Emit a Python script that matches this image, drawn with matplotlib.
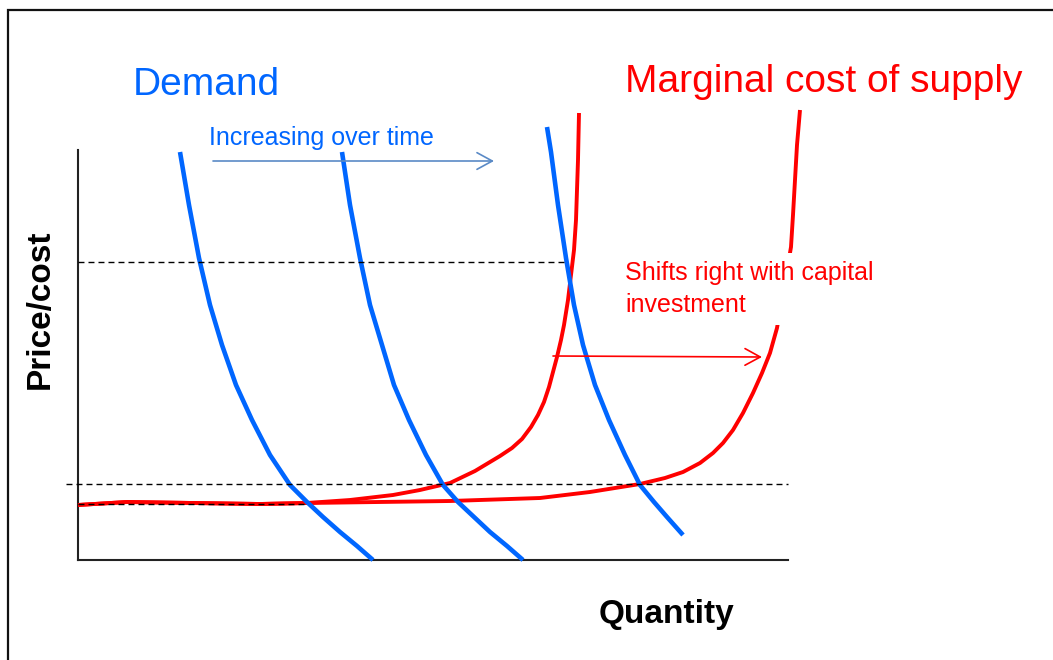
import matplotlib
matplotlib.use("Agg")
import matplotlib.pyplot as plt
from matplotlib.patches import FancyArrowPatch, Rectangle

plt.rcParams['font.family'] = ['Liberation Sans', 'DejaVu Sans']

# ---- data (arbitrary quantity / price units, axis spans 0-710 x 0-410) ----
demand1_q = [102, 111, 121, 132, 144, 158, 174, 192, 212, 229, 245, 262, 279, 295]
demand1_p = [408, 355, 302, 255, 215, 175, 140, 105, 75, 58, 43, 28, 14, 0]

demand2_q = [264, 272, 282, 292, 304, 316, 331, 348, 365, 380, 396, 412, 429, 445]
demand2_p = [408, 355, 302, 255, 215, 175, 140, 105, 75, 58, 43, 28, 14, 0]

demand3_q = [469, 473, 480, 488, 496, 505, 517, 531, 547, 562, 576, 589, 605]
demand3_p = [433, 408, 355, 302, 255, 215, 175, 140, 105, 75, 58, 43, 25]

supply1_q = [0, 49, 115, 182, 229, 272, 315, 342, 372, 397, 422, 434, 444, 453, 460,
             466, 471, 475, 479, 483, 486, 490, 493, 496, 498, 499, 500, 501]
supply1_p = [55, 58, 57, 56, 57, 60, 65, 70, 77, 89, 104, 112, 121, 133, 145,
             158, 173, 188, 203, 220, 235, 260, 285, 310, 340, 370, 400, 447]

supply2_q = [0, 49, 115, 182, 229, 372, 462, 512, 562, 587, 605, 622, 635, 645, 655,
             665, 675, 684, 692, 699, 706, 713, 715, 717, 719, 722]
supply2_p = [55, 58, 57, 56, 57, 59, 62, 68, 76, 82, 88, 97, 107, 117, 130,
             147, 167, 187, 207, 232, 272, 313, 345, 380, 415, 450]

high_price, high_q_end = 298, 487
mid_price, mid_q_start, mid_q_end = 76, -12, 710
low_price, low_q_end = 56.5, 229

demand_shift_q, demand_shift_p = [135, 416], [399, 399]
supply_shift_q, supply_shift_p = [475, 684], [204, 203]

BLUE = '#0066FF'
RED = '#FF0000'

fig = plt.figure(figsize=(10.53, 6.6), dpi=100)
W, H = 1053, 660

# outer frame (only its left and top edges fall inside the image)
fig.add_artist(Rectangle((8 / W, -0.2), 1.2, (1 - 10 / H) + 0.2,
                         transform=fig.transFigure, fill=False, lw=1.6, ec='#111111'))

ax = fig.add_axes([78 / W, 100 / H, 710 / W, 410 / H])
ax.set_xlim(0, 710)
ax.set_ylim(0, 410)
ax.set_xticks([])
ax.set_yticks([])
for s in ['top', 'right']:
    ax.spines[s].set_visible(False)
for s in ['left', 'bottom']:
    ax.spines[s].set_linewidth(1.5)
    ax.spines[s].set_color('#222222')

ax.plot(supply1_q, supply1_p, color=RED, lw=2.8, clip_on=False, zorder=3,
        solid_capstyle='butt', solid_joinstyle='round')
ax.plot(supply2_q, supply2_p, color=RED, lw=2.8, clip_on=False, zorder=3,
        solid_capstyle='butt', solid_joinstyle='round')
for q, p in [(demand1_q, demand1_p), (demand2_q, demand2_p), (demand3_q, demand3_p)]:
    ax.plot(q, p, color=BLUE, lw=3.3, clip_on=False, zorder=4,
            solid_capstyle='butt', solid_joinstyle='round')

dash = dict(color='black', lw=1.0, dashes=(4.3, 2.9), clip_on=False, zorder=5)
ax.plot([0, high_q_end], [high_price, high_price], **dash)
ax.plot([mid_q_start, mid_q_end], [mid_price, mid_price], **dash)
ax.plot([0, low_q_end], [low_price, low_price], **dash)

a1 = FancyArrowPatch((demand_shift_q[0], demand_shift_p[0]), (demand_shift_q[1], demand_shift_p[1]),
                     arrowstyle='->,head_length=0.55,head_width=0.3', mutation_scale=20,
                     color='#5A8AC6', lw=1.2, clip_on=False, zorder=6, shrinkA=0, shrinkB=0)
ax.add_patch(a1)
a2 = FancyArrowPatch((supply_shift_q[0], supply_shift_p[0]), (supply_shift_q[1], supply_shift_p[1]),
                     arrowstyle='->,head_length=0.55,head_width=0.3', mutation_scale=20,
                     color=RED, lw=1.2, clip_on=False, zorder=6, shrinkA=0, shrinkB=0)
ax.add_patch(a2)

fig.text(133 / W, 1 - 95 / H, 'Demand', color=BLUE, fontsize=28, va='baseline', ha='left')
fig.text(625 / W, 1 - 92 / H, 'Marginal cost of supply', color=RED, fontsize=28, va='baseline', ha='left')
fig.text(209 / W, 1 - 145 / H, 'Increasing over time', color=BLUE, fontsize=18, va='baseline', ha='left')
fig.text(625 / W, 1 - 289 / H, 'Shifts right with capital\ninvestment', color=RED, fontsize=18,
         va='center', ha='left', linespacing=1.37, zorder=10,
         bbox=dict(boxstyle='square,pad=0.32', fc='white', ec='none'))
fig.text(40 / W, 1 - 309 / H, 'Price/cost', fontsize=24, fontweight='bold', rotation=90,
         va='center', ha='center')
fig.text(666 / W, 1 - 623 / H, 'Quantity', fontsize=24, fontweight='bold', va='baseline', ha='center')

fig.savefig('out.png', dpi=100)
